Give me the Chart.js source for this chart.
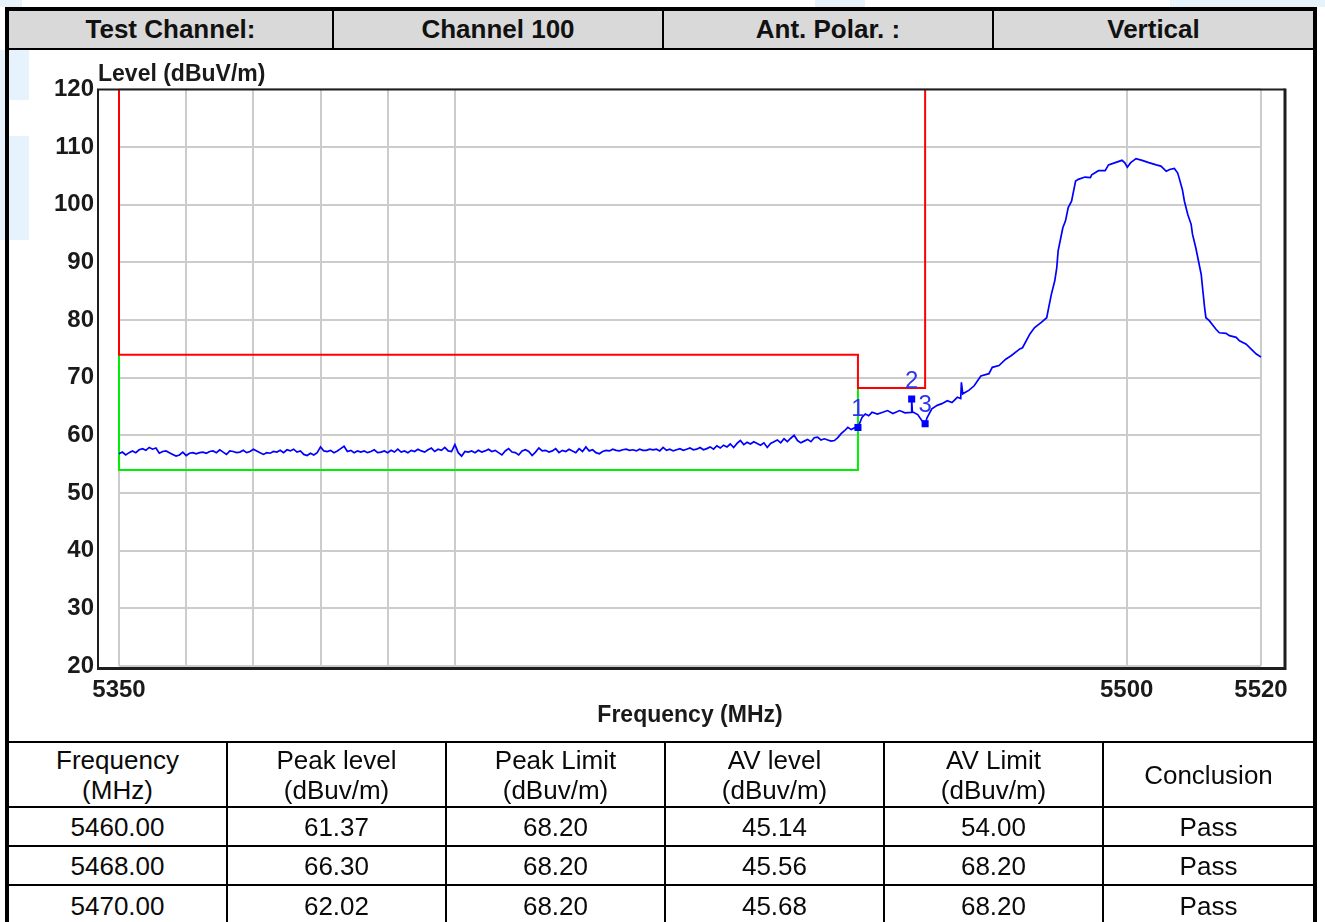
<!DOCTYPE html>
<html>
<head>
<meta charset="utf-8">
<script src="https://cdn.jsdelivr.net/npm/chart.js@4.4.1/dist/chart.umd.min.js"></script>
<style>
html,body{margin:0;padding:0;background:#fff;width:1325px;height:922px;overflow:hidden;font-family:"Liberation Sans",Arial,sans-serif;color:#000;}
.wm{position:absolute;background:#e6f3fc;}
.ln{position:absolute;background:#000;}
.hc{position:absolute;top:11px;height:37px;line-height:37px;text-align:center;font-weight:bold;font-size:26px;color:#111;}
.tc{position:absolute;display:flex;align-items:center;justify-content:center;text-align:center;font-size:26px;line-height:30px;color:#0a0a0a;}
#c{position:absolute;left:9px;top:50px;}
</style>
</head>
<body>
<!-- faint watermark -->
<div class="wm" style="left:0;top:0;width:22px;height:7px;"></div>
<div class="wm" style="left:815px;top:0;width:50px;height:7px;"></div>
<div class="wm" style="left:1170px;top:0;width:155px;height:7px;"></div>
<div class="wm" style="left:9px;top:50px;width:20px;height:50px;"></div>
<div class="wm" style="left:9px;top:136px;width:20px;height:104px;"></div>
<div class="wm" style="left:0;top:50px;width:5px;height:190px;"></div>

<!-- header row -->
<div style="position:absolute;left:9px;top:11px;width:1304px;height:37px;background:#d9d9d9;"></div>
<div class="hc" style="left:9px;width:323px;">Test Channel:</div>
<div class="hc" style="left:334px;width:328px;">Channel 100</div>
<div class="hc" style="left:664px;width:328px;">Ant. Polar. :</div>
<div class="hc" style="left:994px;width:319px;">Vertical</div>
<div class="ln" style="left:332px;top:11px;width:2px;height:37px;"></div>
<div class="ln" style="left:662px;top:11px;width:2px;height:37px;"></div>
<div class="ln" style="left:992px;top:11px;width:2px;height:37px;"></div>
<div class="ln" style="left:9px;top:48px;width:1304px;height:2px;"></div>

<canvas id="c" width="1304" height="692"></canvas>

<!-- results table -->
<div class="ln" style="left:9px;top:741px;width:1304px;height:2px;"></div>
<div class="ln" style="left:9px;top:806px;width:1304px;height:2px;"></div>
<div class="ln" style="left:9px;top:845px;width:1304px;height:2px;"></div>
<div class="ln" style="left:9px;top:884px;width:1304px;height:2px;"></div>
<div class="ln" style="left:226px;top:741px;width:2px;height:181px;"></div>
<div class="ln" style="left:445px;top:741px;width:2px;height:181px;"></div>
<div class="ln" style="left:664px;top:741px;width:2px;height:181px;"></div>
<div class="ln" style="left:883px;top:741px;width:2px;height:181px;"></div>
<div class="ln" style="left:1102px;top:741px;width:2px;height:181px;"></div>
<div id="tbl"></div>

<!-- outer frame -->
<div class="ln" style="left:5px;top:7px;width:1312px;height:4px;"></div>
<div class="ln" style="left:5px;top:7px;width:4px;height:915px;"></div>
<div class="ln" style="left:1313px;top:7px;width:4px;height:915px;"></div>

<script>
// ---------- data ----------
const tableHeaders = ["Frequency<br>(MHz)", "Peak level<br>(dBuv/m)", "Peak Limit<br>(dBuv/m)", "AV level<br>(dBuv/m)", "AV Limit<br>(dBuv/m)", "Conclusion"];
const rowFreq      = ["5460.00", "5468.00", "5470.00"];
const rowPeakLevel = ["61.37", "66.30", "62.02"];
const rowPeakLimit = ["68.20", "68.20", "68.20"];
const rowAvLevel   = ["45.14", "45.56", "45.68"];
const rowAvLimit   = ["54.00", "68.20", "68.20"];
const rowResult    = ["Pass", "Pass", "Pass"];

const xGridFreqs  = [5350, 5360, 5370, 5380, 5390, 5400, 5500, 5520];
const xLabelFreqs = [5350, 5500, 5520];

const peakLimitFreq  = [5350, 5350, 5460, 5460, 5470, 5470];
const peakLimitLevel = [120, 74, 74, 68.2, 68.2, 120];
const avLimitFreq    = [5350, 5350, 5460, 5460];
const avLimitLevel   = [74, 54, 54, 68.2];

const markerFreq   = [5460, 5468, 5470];
const markerLevel  = [61.37, 66.30, 62.02];
const markerLabels = ["1", "2", "3"];

const traceFreq = [
5350,5350.5,5351,5351.5,5352,5352.5,5353,5353.5,5354,5354.5,5355,5355.5,5356,5356.5,5357,5357.5,5358,5358.5,5359,5359.5,
5360,5360.5,5361,5361.5,5362,5362.5,5363,5363.5,5364,5364.5,5365,5365.5,5366,5366.5,5367,5367.5,5368,5368.5,5369,5369.5,
5370,5370.5,5371,5371.5,5372,5372.5,5373,5373.5,5374,5374.5,5375,5375.5,5376,5376.5,5377,5377.5,5378,5378.5,5379,5379.5,
5380,5380.5,5381,5381.5,5382,5382.5,5383,5383.5,5384,5384.5,5385,5385.5,5386,5386.5,5387,5387.5,5388,5388.5,5389,5389.5,
5390,5390.5,5391,5391.5,5392,5392.5,5393,5393.5,5394,5394.5,5395,5395.5,5396,5396.5,5397,5397.5,5398,5398.5,5399,5399.5,
5400,5400.5,5401,5401.5,5402,5402.5,5403,5403.5,5404,5404.5,5405,5405.5,5406,5406.5,5407,5407.5,5408,5408.5,5409,5409.5,
5410,5410.5,5411,5411.5,5412,5412.5,5413,5413.5,5414,5414.5,5415,5415.5,5416,5416.5,5417,5417.5,5418,5418.5,5419,5419.5,
5420,5420.5,5421,5421.5,5422,5422.5,5423,5423.5,5424,5424.5,5425,5425.5,5426,5426.5,5427,5427.5,5428,5428.5,5429,5429.5,
5430,5430.5,5431,5431.5,5432,5432.5,5433,5433.5,5434,5434.5,5435,5435.5,5436,5436.5,5437,5437.5,5438,5438.5,5439,5439.5,
5440,5440.5,5441,5441.5,5442,5442.5,5443,5443.5,5444,5444.5,5445,5445.5,5446,5446.5,5447,5447.5,5448,5448.5,5449,5449.5,
5450,5450.5,5451,5451.5,5452,5452.5,5453,5453.5,5454,5454.5,5455,5455.5,5456,5456.5,5457,5457.5,5458,5458.5,5459,5459.5,
5460,5460.6,5461.1,5461.6,5462.1,5462.9,5463.7,5464.4,5465.2,5466.2,5467.0,5467.9,5468,5468.1,5468.9,5469.5,
5470,5470.3,5471.0,5471.8,5472.5,5473.3,5474.0,5474.8,5475.3,5475.4,5475.6,5476.5,5477.3,5478.3,5479.5,
5480.0,5481.0,5482.0,5482.8,5484.1,5484.5,5485.6,5486.3,5487.3,5488.1,5488.4,5488.8,5489.3,5489.6,5489.8,
5490.1,5490.5,5490.9,5491.3,5491.8,5492.4,5492.8,5493.8,5494.6,5494.8,5495.8,5496.8,5497.3,5498.3,5499.3,5499.7,
5500.1,5500.6,5501.4,5502.3,5503.3,5504.4,5505.1,5505.9,5506.4,5507.1,5507.6,5507.8,5508.3,5508.6,5509.1,5509.6,5509.8,
5510.3,5510.7,5511.1,5511.3,5511.6,5511.8,5512.3,5513.3,5513.8,5514.8,5515.3,5516.3,5516.8,5517.8,5518.5,5519.3,5519.7,5520
];
const traceLevel = [
56.8,57.1,56.6,57.0,57.3,57.0,57.5,57.7,57.4,57.9,57.6,57.8,56.9,57.2,57.3,57.0,56.7,56.4,56.6,57.1,
56.5,56.9,57.0,56.8,57.0,57.1,56.9,57.2,57.3,57.0,57.5,57.1,56.7,57.3,57.2,57.0,57.1,57.4,57.0,57.2,
57.6,57.3,57.0,56.7,57.0,56.9,57.2,57.1,57.4,57.0,57.5,57.3,57.6,57.1,57.3,56.7,56.5,56.9,56.6,57.0,
58.0,57.3,57.2,57.4,57.0,57.3,57.7,58.1,57.2,57.4,57.0,57.3,57.1,57.3,57.0,57.2,57.5,57.0,57.1,57.3,
57.0,57.4,57.1,57.6,57.1,57.3,57.0,57.4,57.2,57.6,57.3,57.1,57.5,57.8,57.2,57.6,57.4,57.9,57.3,57.2,
58.4,57.0,56.4,57.2,57.1,57.3,57.0,57.4,57.1,57.3,57.6,57.2,57.4,57.0,56.6,57.3,57.7,57.1,57.0,56.6,
57.3,57.5,57.2,56.5,57.1,57.8,57.3,57.4,57.1,57.3,57.7,57.0,57.4,57.2,57.6,57.3,57.0,57.7,57.2,58.0,
57.3,57.5,57.0,56.8,57.2,57.4,57.3,57.6,57.4,57.3,57.5,57.6,57.4,57.5,57.3,57.6,57.4,57.4,57.6,57.5,
57.6,57.3,57.9,57.4,57.6,57.3,57.5,57.7,57.4,57.6,57.8,57.5,57.6,57.9,57.5,57.7,58.0,57.6,58.2,57.8,
58.3,58.0,58.5,57.9,58.6,59.1,58.4,58.8,58.5,58.9,58.6,58.3,58.7,57.9,58.6,58.9,59.2,58.7,59.4,58.9,
59.5,60.0,59.1,58.7,59.0,59.3,58.9,59.6,59.7,59.2,59.4,59.2,59.0,59.1,59.6,60.3,60.8,61.4,61.0,61.3,
61.37,63.1,63.7,63.4,64.0,63.7,64.0,64.3,63.8,64.3,63.9,64.0,66.3,64.1,63.6,62.6,
62.02,63.1,64.6,65.2,65.5,66.0,65.7,66.6,66.4,69.2,67.2,67.8,68.6,70.3,70.7,
71.8,72.1,73.2,73.8,75.0,75.2,77.6,78.7,79.6,80.4,82.2,84.5,86.8,89.1,92.0,
93.7,96.0,97.2,99.5,100.6,104.1,104.4,104.8,104.7,105.2,105.9,105.9,106.9,107.3,107.7,107.3,
106.5,107.3,108.0,107.7,107.3,106.9,106.7,105.8,106.1,106.3,105.5,104.7,102.6,100.6,98.3,96.6,94.9,
92.5,90.2,87.9,85.6,82.2,80.4,79.9,78.4,77.8,77.7,77.3,77.0,76.4,75.8,75.0,74.1,73.8,73.6
];

// ---------- table ----------
(function(){
  const colL = [9, 228, 447, 666, 885, 1104];
  const colR = [226, 445, 664, 883, 1102, 1313];
  const rowsTop = [743, 808, 847, 886];
  const rowsBot = [806, 845, 884, 925];
  const rows = [tableHeaders];
  for (let i = 0; i < rowFreq.length; i++) rows.push([rowFreq[i], rowPeakLevel[i], rowPeakLimit[i], rowAvLevel[i], rowAvLimit[i], rowResult[i]]);
  let html = "";
  rows.forEach((r, ri) => r.forEach((t, ci) => {
    html += `<div class="tc" style="left:${colL[ci]}px;width:${colR[ci]-colL[ci]}px;top:${rowsTop[ri]}px;height:${rowsBot[ri]-rowsTop[ri]}px;"><div>${t}</div></div>`;
  }));
  document.getElementById('tbl').innerHTML = html;
})();

// ---------- chart ----------
const FONT = '"Liberation Sans", Arial, sans-serif';
Chart.defaults.font.family = FONT;
const pts = (xs, ys) => xs.map((x, i) => ({x: x, y: ys[i]}));

const framePlugin = {
  id: 'frame',
  afterDraw(chart) {
    const {ctx, chartArea: {left, right, top, bottom}} = chart;
    ctx.save();
    ctx.strokeStyle = '#1e1e1e';
    ctx.lineWidth = 2;
    ctx.beginPath();
    ctx.moveTo(left - 21, bottom + 2);
    ctx.lineTo(left - 21, top);
    ctx.lineTo(right + 24, top);
    ctx.stroke();
    ctx.lineWidth = 3;
    ctx.beginPath();
    ctx.moveTo(right + 24, top - 1);
    ctx.lineTo(right + 24, bottom + 2.5);
    ctx.lineTo(left - 22, bottom + 2.5);
    ctx.stroke();
    // y axis title
    ctx.fillStyle = '#1a1a1a';
    ctx.font = 'bold 23px ' + FONT;
    ctx.textAlign = 'left';
    ctx.textBaseline = 'alphabetic';
    ctx.fillText('Level (dBuV/m)', left - 21, top - 8);
    ctx.restore();
  }
};

const markerLabelPlugin = {
  id: 'markerLabels',
  afterDatasetsDraw(chart) {
    const {ctx} = chart;
    const meta = chart.getDatasetMeta(0);
    ctx.save();
    ctx.fillStyle = '#3030f0';
    ctx.font = '24px ' + FONT;
    ctx.textAlign = 'center';
    ctx.textBaseline = 'bottom';
    meta.data.forEach((el, i) => {
      ctx.fillText(markerLabels[i], el.x, el.y - 6);
    });
    ctx.restore();
  }
};

new Chart(document.getElementById('c'), {
  type: 'scatter',
  data: {
    datasets: [
      { label: 'Markers', data: pts(markerFreq, markerLevel), showLine: false, clip: false,
        pointStyle: 'rect', pointRadius: 5, pointBackgroundColor: '#0000ff', pointBorderColor: '#0000ff', pointBorderWidth: 0 },
      { label: 'Level', data: pts(traceFreq, traceLevel), showLine: true, clip: false,
        borderColor: '#0000ff', borderWidth: 1.7, pointRadius: 0, tension: 0 },
      { label: 'Peak Limit', data: pts(peakLimitFreq, peakLimitLevel), showLine: true, clip: false,
        borderColor: '#ff0000', borderWidth: 2, pointRadius: 0, tension: 0 },
      { label: 'AV Limit', data: pts(avLimitFreq, avLimitLevel), showLine: true, clip: false,
        borderColor: '#00ee00', borderWidth: 2, pointRadius: 0, tension: 0 }
    ]
  },
  options: {
    responsive: false,
    animation: false,
    layout: { padding: { left: 0, right: 52, top: 38, bottom: 0 } },
    plugins: { legend: { display: false }, tooltip: { enabled: false }, title: { display: false } },
    scales: {
      x: {
        type: 'linear', min: 5350, max: 5520,
        afterBuildTicks: s => { s.ticks = xGridFreqs.map(v => ({value: v})); },
        afterFit: s => { s.height = 76; },
        grid: { color: '#cccccc', lineWidth: 2, drawTicks: false },
        border: { display: false },
        ticks: { autoSkip: false, maxRotation: 0, padding: 10, color: '#1a1a1a',
          font: { size: 24, weight: 'bold' },
          callback: v => xLabelFreqs.includes(v) ? String(v) : '' },
        title: { display: true, text: 'Frequency (MHz)', color: '#1a1a1a',
          font: { size: 23, weight: 'bold' }, padding: { top: 0, bottom: 13 } }
      },
      y: {
        min: 20, max: 120,
        afterFit: s => { s.width = 110; },
        grid: { color: '#cccccc', lineWidth: 2, drawTicks: false },
        border: { display: false },
        ticks: { stepSize: 10, padding: 25, color: '#1a1a1a', font: { size: 24, weight: 'bold' } }
      }
    }
  },
  plugins: [framePlugin, markerLabelPlugin]
});
</script>
</body>
</html>
